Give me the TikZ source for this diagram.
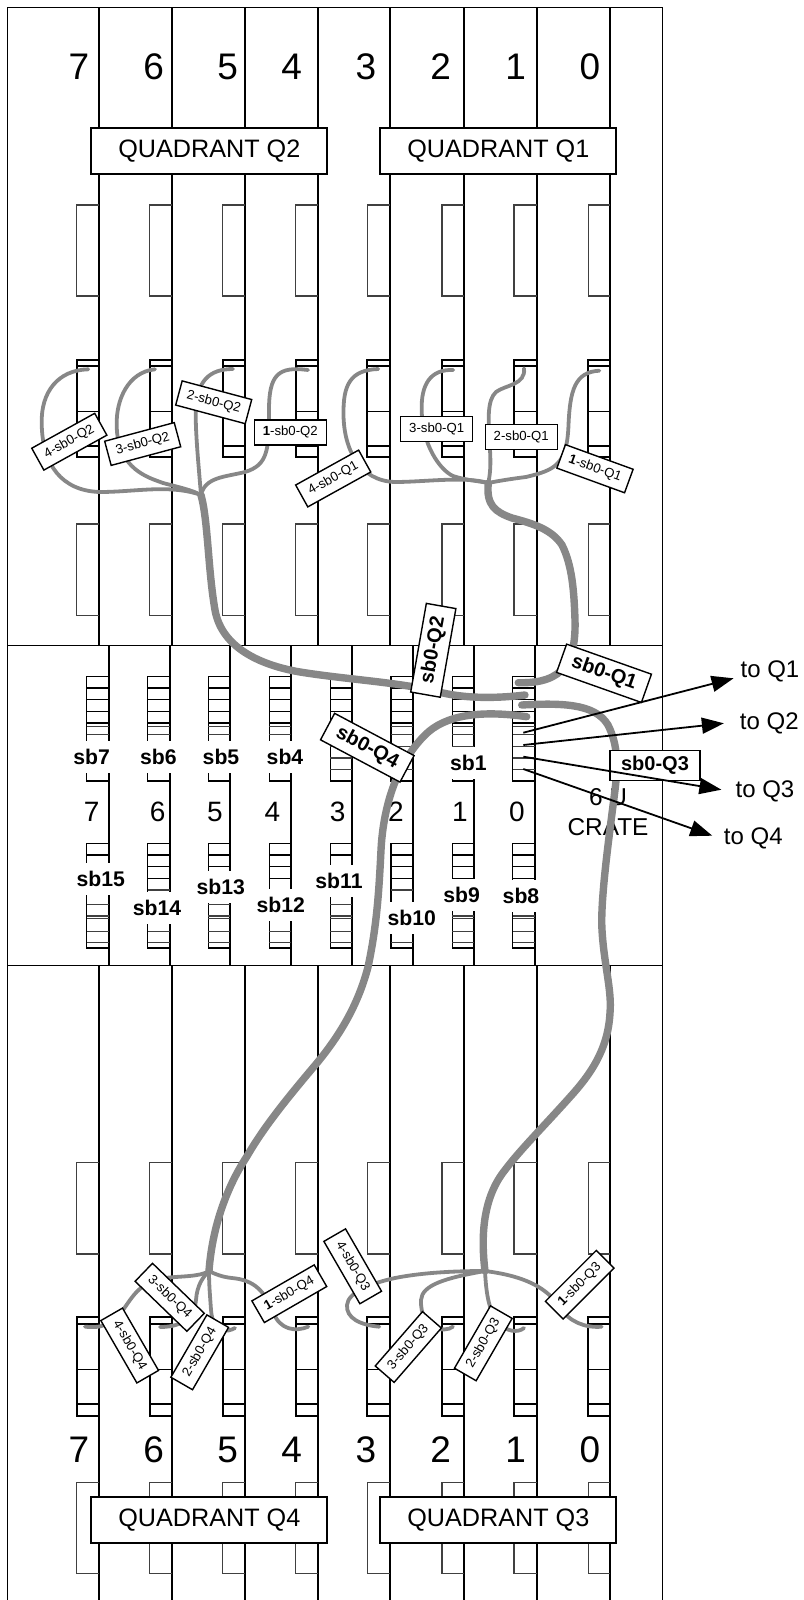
\documentclass[tikz,border=0pt]{standalone}
\usepackage{fontspec}
\setmainfont{Liberation Sans}
\usetikzlibrary{arrows.meta}
\definecolor{cablegray}{gray}{0.53}
\tikzset{tinybox/.style={
    rectangle,
    draw,
    fill=white,
    line width=0.7pt,
    inner sep=0pt,
    font=\fontsize{6.6}{8}\selectfont,
    minimum height=12.5pt,
    minimum width=36pt
  },
  bigbox/.style={tinybox,font=\fontsize{10}{12}\selectfont\bfseries,
    minimum height=15pt,minimum width=45pt},
  quadbox/.style={tinybox,line width=1pt,font=\fontsize{12.6}{15}\selectfont,
    minimum height=23pt,minimum width=118pt},
  sbtag/.style={fill=white,inner xsep=1pt,inner ysep=0pt,minimum height=16pt,
    font=\fontsize{10.6}{12}\selectfont\bfseries},
  cratenum/.style={inner sep=0pt,font=\fontsize{18.5}{20}\selectfont},
  bandnum/.style={inner sep=0pt,font=\fontsize{14}{16}\selectfont},
  tolabel/.style={font=\fontsize{12}{14}\selectfont},
  mainline/.style={line width=1pt},
  frameline/.style={line width=0.7pt},
  thinline/.style={line width=0.55pt,black!75},
  rowline/.style={line width=0.75pt},
  cable/.style={line width=1.9pt,cablegray,line cap=round},
  trunk/.style={line width=3.7pt,cablegray,line cap=round},
  toarrow/.style={line width=0.9pt,-{Triangle[length=11pt,width=8pt]}},
}
\begin{document}
\begin{tikzpicture}[x=0.5pt,y=-0.5pt]
  \useasboundingbox (0,0) rectangle (803,1600);
  % frame and band
  \draw[frameline] (7.6,1600) -- (7.6,7.3) -- (662.3,7.3) -- (662.3,1600);
  \draw[frameline] (7.6,645.7) -- (662.3,645.7);
  \draw[frameline] (7.6,965.3) -- (662.3,965.3);
  % crate columns
  \foreach \xline/\xrect/\xnum/\slotno in {99.3/76.6/79/7,171.7/149.8/153.6/6,245/222.6/227.7/5,
    318/295.9/291.7/4,390/367.4/366/3,464/442/440.7/2,536.6/514/515.6/1,610/588.4/590/0} {
    \draw[mainline] (\xline,7.3) -- (\xline,645.7);
    \draw[mainline] (\xline,965.3) -- (\xline,1600);
    \node[cratenum] at (\xnum,66.7) {\slotno};
    \draw[thinline] (\xline,205) -| (\xrect,296) -- (\xline,296);
    \draw[thinline] (\xline,524) -| (\xrect,615.3) -- (\xline,615.3);
    \draw[thinline] (\xline,1162.7) -| (\xrect,1254) -- (\xline,1254);
    \draw[thinline] (\xline,1482.3) -| (\xrect,1573.3) -- (\xline,1573.3);
    \draw[mainline] (\xline,360) -| (\xrect,457.3) -- (\xline,457.3);
    \draw[mainline] (\xrect,366) -- (\xline,366);
    \draw[rowline] (\xrect,411.7) -- (\xline,411.7) (\xrect,446) -- (\xline,446);
    \draw[mainline] (\xline,1317.3) -| (\xrect,1415.7) -- (\xline,1415.7);
    \draw[mainline] (\xrect,1324) -- (\xline,1324);
    \draw[rowline] (\xrect,1369.3) -- (\xline,1369.3) (\xrect,1404) -- (\xline,1404);
    \node[cratenum] at (\xnum,1450) {\slotno};
  }
  % band columns with switch board slots
  \foreach \xline/\xnum/\slotno in {108.7/91.7/7,169.7/157.7/6,230.3/215/5,291.3/272.3/4,
    352.3/337.7/3,413/396/2,474.3/460/1,534.7/517/0} {
    \pgfmathsetmacro{\xrect}{\xline-22}
    \draw[mainline] (\xline,645.7) -- (\xline,965.3);
    \draw[rowline] (\xline,676.7) -| (\xrect,781) -- (\xline,781);
    \foreach \yrow in {688,699.7,711.3,723}
      \draw[rowline] (\xrect,\yrow) -- (\xline,\yrow);
    \foreach \yrow in {726.3,734.7,746.3,758,769.7}
      \draw[thinline] (\xrect,\yrow) -- (\xline,\yrow);
    \draw[rowline] (\xline,843.3) -| (\xrect,948) -- (\xline,948);
    \foreach \yrow in {855,866.7,878.3}
      \draw[rowline] (\xrect,\yrow) -- (\xline,\yrow);
    \foreach \yrow in {890,904.3,916,918.3,931.7,942.7}
      \draw[thinline] (\xrect,\yrow) -- (\xline,\yrow);
    \node[bandnum] at (\xnum,812) {\slotno};
  }
  \node[tolabel,font=\fontsize{12.2}{14}\selectfont] (crateu) at (608,797) {6 U};
  \node[tolabel,font=\fontsize{12.2}{14}\selectfont] (cratename) at (608,827) {CRATE};
  % quadrants
  \node[quadbox] (quadq2) at (209.3,151.3) {QUADRANT Q2};
  \node[quadbox] (quadq1) at (498.3,151.3) {QUADRANT Q1};
  \node[quadbox] (quadq4) at (209.3,1520.3) {QUADRANT Q4};
  \node[quadbox] (quadq3) at (498.3,1520.3) {QUADRANT Q3};
  % junctions of the cables
  \coordinate (junq2) at (201,495);
  \coordinate (junq1) at (488.3,483);
  \coordinate (junq3) at (485,1271);
  \coordinate (junq4) at (209,1271);
  % cable ends on sb0
  \coordinate (portq1) at (518.3,682.7);
  \coordinate (portq2) at (525,695);
  \coordinate (portq3) at (521.7,705);
  \coordinate (portq4) at (526.7,716.7);
  % cable ends on the boards
  \coordinate (endaq2) at (308,370);
  \coordinate (endbq2) at (233,369);
  \coordinate (endcq2) at (155,369.3);
  \coordinate (enddq2) at (88.3,369.3);
  \coordinate (endaq1) at (599.3,370.7);
  \coordinate (endbq1) at (524,368.3);
  \coordinate (endcq1) at (453.3,370);
  \coordinate (enddq1) at (378.3,369);
  \coordinate (endaq3) at (601.7,1326.7);
  \coordinate (endbq3) at (524,1328);
  \coordinate (endcq3) at (453,1326.7);
  \coordinate (enddq3) at (379.3,1326.7);
  \coordinate (endaq4) at (308.3,1326.7);
  \coordinate (endbq4) at (235,1328);
  \coordinate (endcq4) at (160,1327);
  \coordinate (enddq4) at (85,1326.7);
  % thin cables
  \draw[cable] (enddq2) .. controls (58,370) and (41,392) .. (41.7,423)
    .. controls (42,465) and (62,491) .. (100,492) .. controls (135,492) and (170,484) .. (junq2);
  \draw[cable] (endcq2) .. controls (128,372) and (116,400) .. (116.7,425)
    .. controls (117,470) and (150,478) .. (163,483) .. controls (178,487) and (192,490) .. (junq2);
  \draw[cable] (endbq2) .. controls (210,369) and (195,380) .. (195.7,416.7)
    .. controls (196,440) and (199,470) .. (junq2);
  \draw[cable] (endaq2) .. controls (278,366) and (269,375) .. (269,410)
    .. controls (269,450) and (268,465) .. (245,472) .. controls (225,477) and (205,477) .. (junq2);
  \draw[cable] (enddq1) .. controls (350,370) and (343,385) .. (343.5,415)
    .. controls (344,450) and (360,481) .. (395,482) .. controls (425,482) and (465,476) .. (junq1);
  \draw[cable] (endcq1) .. controls (430,369) and (421,385) .. (421.7,410)
    .. controls (422,445) and (440,470) .. (453,476) .. controls (465,480) and (478,481) .. (junq1);
  \draw[cable] (endbq1) .. controls (526,385) and (505,385) .. (496,392)
    .. controls (487,400) and (488,420) .. (490,450) .. controls (491,465) and (490,475) .. (junq1);
  \draw[cable] (endaq1) .. controls (575,372) and (570,390) .. (568.5,425)
    .. controls (567,465) and (555,470) .. (526,477) .. controls (510,479) and (498,481) .. (junq1);
  \draw[cable] (enddq3) .. controls (360,1325) and (346,1318) .. (347,1305)
    .. controls (348,1292) and (372,1283) .. (395,1278) .. controls (425,1272) and (460,1271) .. (junq3);
  \draw[cable] (endcq3) .. controls (445,1333) and (420,1330) .. (421,1300)
    .. controls (422,1285) and (445,1278) .. (junq3);
  \draw[cable] (endbq3) .. controls (518,1333) and (506,1332) .. (498,1322)
    .. controls (488,1310) and (486,1290) .. (junq3);
  \draw[cable] (endaq3) .. controls (585,1328) and (570,1322) .. (560,1308)
    .. controls (548,1288) and (525,1276) .. (junq3);
  \draw[cable] (enddq4) .. controls (100,1328) and (108,1327) .. (123,1310)
    .. controls (135,1293) and (140,1283) .. (165,1278) .. controls (180,1276) and (200,1277) .. (junq4);
  \draw[cable] (endcq4) .. controls (185,1327) and (195,1315) .. (196,1300)
    .. controls (197,1285) and (203,1277) .. (junq4);
  \draw[cable] (endbq4) .. controls (228,1332) and (213,1335) .. (211,1310)
    .. controls (210,1295) and (209,1285) .. (junq4);
  \draw[cable] (endaq4) .. controls (295,1332) and (280,1330) .. (273,1312)
    .. controls (265,1292) and (255,1280) .. (232,1278) .. controls (222,1277) and (215,1274) .. (junq4);
  % trunk cables
  \draw[trunk] (junq2) .. controls (208,520) and (208,570) .. (215,610)
    .. controls (222,650) and (265,666) .. (300,672) .. controls (350,680) and (400,682) .. (443,693)
    .. controls (470,699) and (500,698) .. (portq2);
  \draw[trunk] (junq1) .. controls (486,505) and (495,512) .. (512,518)
    .. controls (535,524) and (552,530) .. (562,545) .. controls (572,565) and (574,590) .. (575,620)
    .. controls (576,660) and (565,684) .. (portq1);
  \draw[trunk] (portq3) .. controls (560,703) and (595,703) .. (608,725)
    .. controls (618,745) and (618,765) .. (615,790) .. controls (610,830) and (600,900) .. (602,930)
    .. controls (604,965) and (612,990) .. (610,1013) .. controls (608,1050) and (590,1075) .. (570,1097)
    .. controls (545,1125) and (520,1150) .. (505,1170) .. controls (485,1195) and (480,1230) .. (junq3);
  \draw[trunk] (portq4) .. controls (480,710) and (445,715) .. (425,735)
    .. controls (395,765) and (383,810) .. (381,850) .. controls (379,890) and (377,925) .. (368,967)
    .. controls (358,1005) and (340,1035) .. (316.7,1063.3)
    .. controls (290,1095) and (265,1125) .. (246.7,1156.7)
    .. controls (225,1190) and (212,1230) .. (junq4);
  % switch board tags
  \node[sbtag] (sbseven) at (91.7,756.7) {sb7};
  \node[sbtag] (sbsix) at (158.3,756.7) {sb6};
  \node[sbtag] (sbfive) at (221,756.7) {sb5};
  \node[sbtag] (sbfour) at (285,756.7) {sb4};
  \node[sbtag] (sbone) at (468.3,763) {sb1};
  \node[sbtag] (sbfifteen) at (100.7,879) {sb15};
  \node[sbtag] (sbfourteen) at (157,908) {sb14};
  \node[sbtag] (sbthirteen) at (220.7,887.3) {sb13};
  \node[sbtag] (sbtwelve) at (280.7,905) {sb12};
  \node[sbtag] (sbeleven) at (339,880.7) {sb11};
  \node[sbtag] (sbten) at (411.7,918.3) {sb10};
  \node[sbtag] (sbnine) at (461.7,895) {sb9};
  \node[sbtag] (sbeight) at (521,896) {sb8};
  % labels on the board cables
  \node[tinybox,rotate=29] (laba) at (69.3,441.7) {4-sb0-Q2};
  \node[tinybox,rotate=15] (labb) at (142.7,444) {3-sb0-Q2};
  \node[tinybox,rotate=-15] (labc) at (213.7,402.3) {2-sb0-Q2};
  \node[tinybox] (labd) at (290.3,432.3) {\textbf{1}-sb0-Q2};
  \node[tinybox,rotate=29] (labe) at (333.2,478.5) {4-sb0-Q1};
  \node[tinybox] (labf) at (436.7,429) {3-sb0-Q1};
  \node[tinybox] (labg) at (521.2,437.2) {2-sb0-Q1};
  \node[tinybox,rotate=-20] (labh) at (595,468.7) {\textbf{1}-sb0-Q1};
  \node[tinybox,rotate=-60] (labi) at (129.7,1345.5) {4-sb0-Q4};
  \node[tinybox,rotate=-44] (labj) at (169.7,1297.3) {3-sb0-Q4};
  \node[tinybox,rotate=60] (labk) at (199.7,1352.3) {2-sb0-Q4};
  \node[tinybox,rotate=30] (labl) at (289.3,1293.7) {\textbf{1}-sb0-Q4};
  \node[tinybox,rotate=-60] (labm) at (352.7,1266.3) {4-sb0-Q3};
  \node[tinybox,rotate=49] (labn) at (408.3,1347) {3-sb0-Q3};
  \node[tinybox,rotate=60] (labo) at (483.3,1343.3) {2-sb0-Q3};
  \node[tinybox,rotate=45] (labp) at (579.7,1284.7) {\textbf{1}-sb0-Q3};
  % labels on the trunk cables
  \node[bigbox,rotate=-19.5] (trunkqa) at (604,673.3) {sb0-Q1};
  \node[bigbox,rotate=80] (trunkqb) at (433.3,650.3) {sb0-Q2};
  \node[bigbox] (trunkqc) at (655,765.7) {sb0-Q3};
  \node[bigbox,rotate=-28] (trunkqd) at (367.3,747.7) {sb0-Q4};
  % links out of the crate
  \node[tolabel] (toqa) at (770,671.7) {to Q1};
  \node[tolabel] (toqb) at (769.3,723.3) {to Q2};
  \node[tolabel] (toqc) at (765,791.7) {to Q3};
  \node[tolabel] (toqd) at (753.3,838.3) {to Q4};
  \coordinate (linka) at (523.3,732.7);
  \coordinate (linkb) at (523.3,745);
  \coordinate (linkc) at (523.3,756.7);
  \coordinate (linkd) at (523.3,769);
  \draw[toarrow] (linka) -- ([yshift=-3.3pt]toqa.west);
  \draw[toarrow] (linkb) -- ([xshift=-4.5pt]toqb.west);
  \draw[toarrow] (linkc) -- ([xshift=-3.6pt,yshift=1pt]toqc.west);
  \draw[toarrow] (linkd) -- ([xshift=-2.3pt,yshift=1.3pt]toqd.west);
\end{tikzpicture}
\end{document}
